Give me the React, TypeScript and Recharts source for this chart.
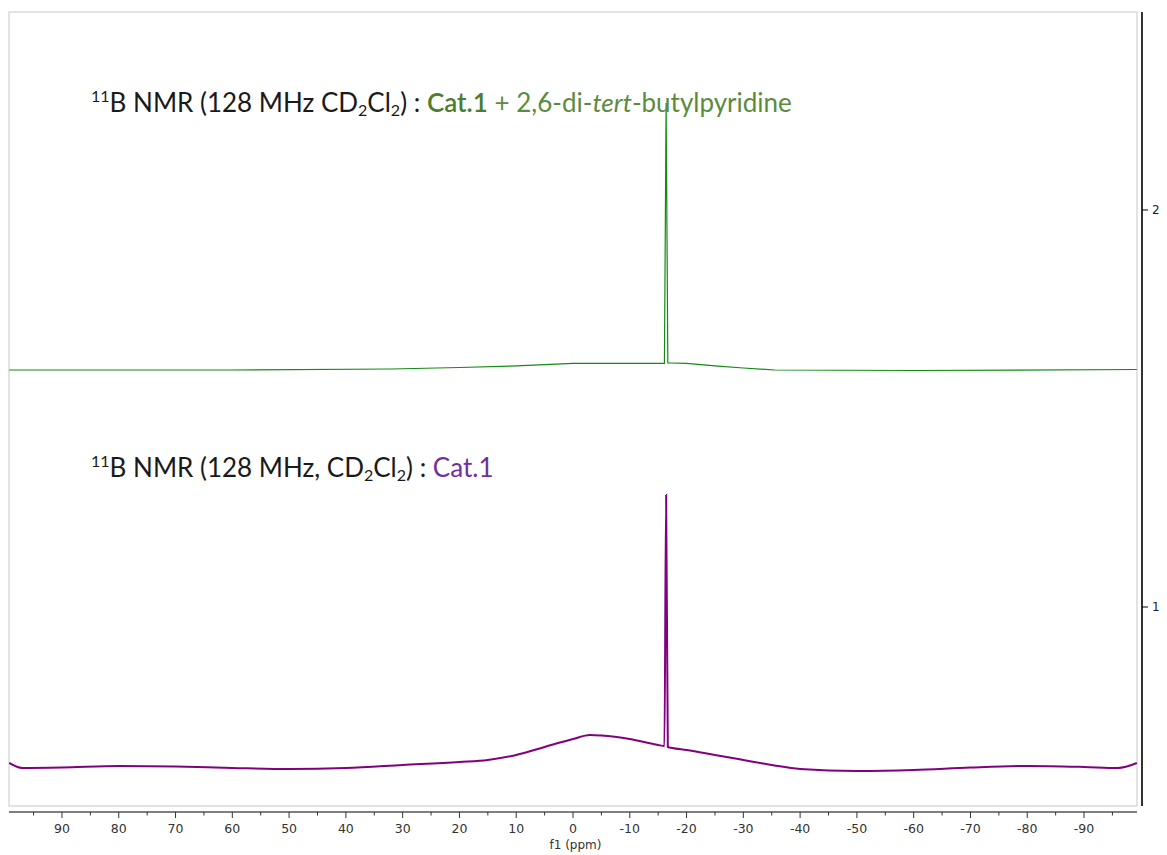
import { Label, Line, LineChart, ReferenceArea, ReferenceLine, XAxis, YAxis } from 'recharts';

// chemical shift (ppm) and stacked intensity for each trace
const ppmTop = [99.3, 60, 32, 20, 10, 0, -10, -15.8, -16.1, -16.4, -16.7, -17.0, -20, -25, -30, -35.5, -60, -99.3];
const intTop = [1.597, 1.597, 1.5995, 1.6033, 1.6071, 1.6134, 1.6134, 1.6134, 1.6134, 2.2695, 1.6146, 1.6146, 1.6134, 1.6071, 1.602, 1.597, 1.5957, 1.5982];

const ppmBottom = [99.3, 97, 90, 80, 70, 60, 50, 40, 30, 20, 15, 10, 5, 0, -3, -5, -10, -15, -16.1, -16.4, -16.7, -17.5, -20, -25, -30, -35, -40, -50, -60, -70, -80, -90, -96, -99.3];
const intBottom = [0.6071, 0.5945, 0.5957, 0.5995, 0.5982, 0.5945, 0.5919, 0.5945, 0.602, 0.6096, 0.6146, 0.6272, 0.6474, 0.6675, 0.6776, 0.6763, 0.6675, 0.6524, 0.6499, 1.2821, 0.6474, 0.6448, 0.6398, 0.6272, 0.6146, 0.602, 0.5919, 0.5869, 0.5894, 0.5957, 0.5995, 0.597, 0.5945, 0.6071];

const ppmTicks = [95, 90, 85, 80, 75, 70, 65, 60, 55, 50, 45, 40, 35, 30, 25, 20, 15, 10, 5, 0, -5, -10, -15, -20, -25, -30, -35, -40, -45, -50, -55, -60, -65, -70, -75, -80, -85, -90, -95];
const stackTicks = [1, 2];

const topData = ppmTop.map((ppm, i) => ({ ppm, v: intTop[i] }));
const bottomData = ppmBottom.map((ppm, i) => ({ ppm, v: intBottom[i] }));

const X_MIN = -100.21;
const X_MAX = 99.33;
const Y_MIN = 0.4836;
const Y_MAX = 2.4987;
const FRAME_X = 99.33;
const FRAME_Y_BOTTOM = 0.4987;

const axisFont = '"DejaVu Sans", Verdana, sans-serif';
const titleFont = 'Lato, "Open Sans", sans-serif';

const PpmTick = (props: any) => {
  const { x, y, payload } = props;
  const major = payload.value % 10 === 0;
  return (
    <g>
      <line x1={x} x2={x} y1={y} y2={y + (major ? 6 : 3.5)} stroke="#333" strokeWidth={1} />
      {major && (
        <text x={x} y={y + 21} textAnchor="middle" fontSize={12.5} fontFamily={axisFont} fill="#333">
          {payload.value}
        </text>
      )}
    </g>
  );
};

export default function App() {
  return (
    <div style={{ position: 'absolute', left: 0, top: 0, width: 1167, height: 855, background: '#fff' }}>
      <LineChart width={1167} height={855} margin={{ top: 12, right: 0, bottom: 0, left: 9 }}>
        <XAxis
          type="number"
          dataKey="ppm"
          domain={[X_MIN, X_MAX]}
          reversed
          ticks={ppmTicks}
          interval={0}
          axisLine={false}
          tickLine={false}
          tickSize={0}
          tickMargin={0}
          tick={<PpmTick />}
          height={43}
          allowDataOverflow
        >
          <Label value="f1 (ppm)" position="insideBottom" offset={6} fontSize={12} fontFamily={axisFont} fill="#333" />
        </XAxis>
        <YAxis
          orientation="right"
          type="number"
          domain={[Y_MIN, Y_MAX]}
          ticks={stackTicks}
          axisLine={false}
          tickLine={{ stroke: '#000' }}
          tickSize={6}
          tickMargin={4}
          width={25}
          tick={{ fontSize: 12, fontFamily: axisFont, fill: '#222' }}
          allowDataOverflow
        />
        <ReferenceArea
          x1={FRAME_X}
          x2={-FRAME_X}
          y1={FRAME_Y_BOTTOM}
          y2={Y_MAX}
          fill="none"
          fillOpacity={0}
          stroke="#dadada"
          strokeWidth={1.5}
          ifOverflow="visible"
        />
        <ReferenceLine
          segment={[{ x: FRAME_X, y: Y_MIN }, { x: -FRAME_X, y: Y_MIN }]}
          stroke="#555"
          strokeWidth={1.5}
          ifOverflow="visible"
        />
        <ReferenceLine
          segment={[{ x: X_MIN, y: FRAME_Y_BOTTOM }, { x: X_MIN, y: Y_MAX }]}
          stroke="#000"
          strokeWidth={1.6}
          ifOverflow="visible"
        />
        <Line
          data={bottomData}
          dataKey="v"
          type="monotone"
          stroke="#800080"
          strokeWidth={2}
          dot={false}
          isAnimationActive={false}
        />
        <Line
          data={topData}
          dataKey="v"
          type="linear"
          stroke="#138a13"
          strokeWidth={1.2}
          dot={false}
          isAnimationActive={false}
        />
      </LineChart>
      <svg width={1167} height={855} style={{ position: 'absolute', left: 0, top: 0, pointerEvents: 'none' }}>
        <text x={91} y={112} fontFamily={titleFont} fontSize={26} fill="#1a1a1a">
          <tspan fontSize={16} dy={-10}>11</tspan>
          <tspan dy={10}>B NMR (128 MHz CD</tspan>
          <tspan fontSize={16} dy={4}>2</tspan>
          <tspan dy={-4}>Cl</tspan>
          <tspan fontSize={16} dy={4}>2</tspan>
          <tspan dy={-4}>) : </tspan>
          <tspan fill="#4f7d2d" fontWeight={600}>Cat.1</tspan>
          <tspan fill="#5b8c3e"> + 2,6-di-</tspan>
          <tspan fill="#5b8c3e" fontStyle="italic">tert</tspan>
          <tspan fill="#5b8c3e">-butylpyridine</tspan>
        </text>
        <text x={91} y={477} fontFamily={titleFont} fontSize={26} fill="#1a1a1a">
          <tspan fontSize={16} dy={-10}>11</tspan>
          <tspan dy={10}>B NMR (128 MHz, CD</tspan>
          <tspan fontSize={16} dy={4}>2</tspan>
          <tspan dy={-4}>Cl</tspan>
          <tspan fontSize={16} dy={4}>2</tspan>
          <tspan dy={-4}>) : </tspan>
          <tspan fill="#7030a0">Cat.1</tspan>
        </text>
      </svg>
    </div>
  );
}
